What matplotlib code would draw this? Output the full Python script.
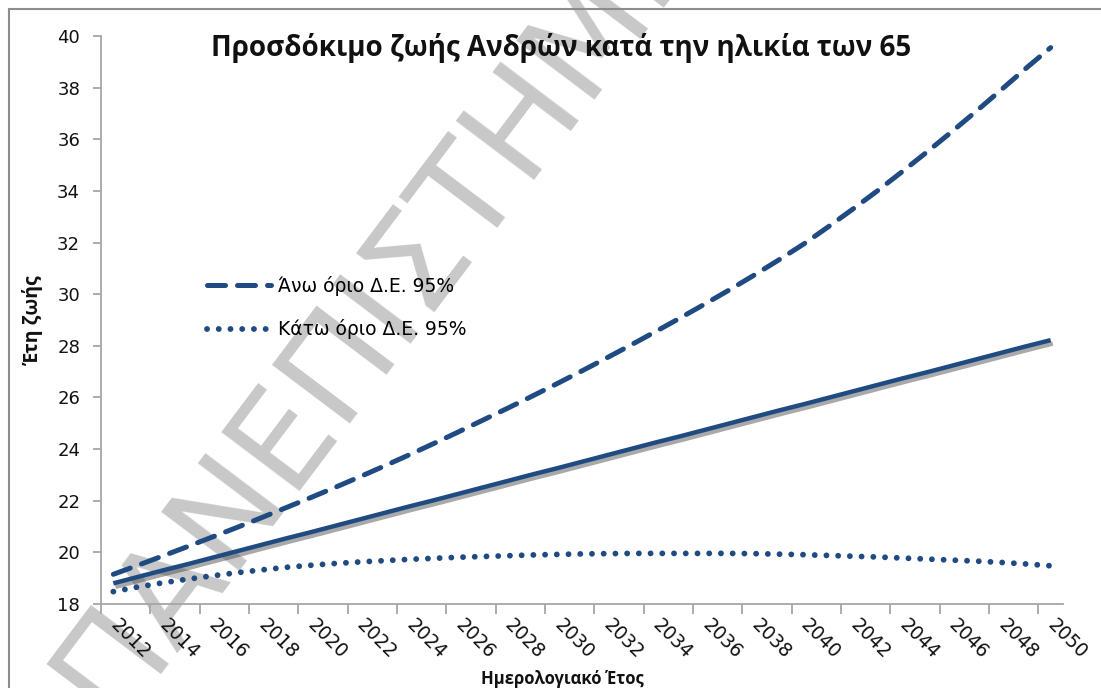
import matplotlib.pyplot as plt
import matplotlib.patheffects as pe
from matplotlib.lines import Line2D

# Data (life expectancy of men at age 65)
years = list(range(2012, 2051))
central = [18.80, 19.05, 19.30, 19.54, 19.79, 20.04, 20.29, 20.54, 20.78, 21.03,
           21.28, 21.53, 21.78, 22.02, 22.27, 22.52, 22.77, 23.02, 23.26, 23.51,
           23.76, 24.01, 24.26, 24.50, 24.75, 25.00, 25.25, 25.50, 25.74, 25.99,
           26.24, 26.49, 26.74, 26.98, 27.23, 27.48, 27.73, 27.98, 28.22]
upper = [19.15, 19.50, 19.86, 20.22, 20.59, 20.96, 21.34, 21.73, 22.12, 22.52,
         22.93, 23.35, 23.78, 24.22, 24.67, 25.13, 25.59, 26.06, 26.54, 27.03,
         27.53, 28.04, 28.56, 29.09, 29.63, 30.18, 30.75, 31.34, 31.95, 32.62,
         33.31, 34.02, 34.76, 35.52, 36.30, 37.10, 37.92, 38.75, 39.55]
lower = [18.48, 18.66, 18.82, 18.96, 19.09, 19.21, 19.32, 19.42, 19.50, 19.57,
         19.63, 19.68, 19.73, 19.77, 19.81, 19.84, 19.87, 19.90, 19.92, 19.94,
         19.95, 19.96, 19.96, 19.96, 19.96, 19.96, 19.95, 19.93, 19.91, 19.88,
         19.85, 19.82, 19.78, 19.74, 19.70, 19.66, 19.61, 19.55, 19.48]
year_labels = [str(y) for y in range(2012, 2051, 2)]

title = 'Προσδόκιμο ζωής Ανδρών κατά την ηλικία των 65'
xlabel = 'Ημερολογιακό Έτος'
ylabel = 'Έτη ζωής'
legend_labels = ['Άνω όριο Δ.Ε. 95%', 'Κάτω όριο Δ.Ε. 95%']

plt.rcParams['font.family'] = ['DejaVu Sans']

navy = '#1f4a82'
axis_gray = '#a6a6a6'
bold_font = ['Open Sans', 'DejaVu Sans']

W, H = 1101, 688
fig = plt.figure(figsize=(W / 100, H / 100), dpi=100)

# chart area (pixel positions of the reference converted to figure fractions)
ax = fig.add_axes([101 / W, 1 - 604 / H, (1063 - 101) / W, (604 - 36) / H])
ax.patch.set_facecolor('none')

# watermark behind everything
fig.text(0.102, -0.05, 'ΠΑΝΕΠΙΣΤΗΜΙΟ', rotation=53, rotation_mode='anchor',
         ha='left', va='baseline', fontsize=96, color='#c8c8c8',
         family='DejaVu Sans', zorder=-1)

# outer chart border (cropped at right and bottom in the reference)
fig.add_artist(Line2D([9 / W, 1.0], [1 - 9 / H, 1 - 9 / H], color='#8c8c8c', lw=1.5))
fig.add_artist(Line2D([9 / W, 9 / W], [0.0, 1 - 9 / H], color='#8c8c8c', lw=1.5))

ax.plot(years, central, color=navy, lw=3.2, solid_capstyle='butt', zorder=3,
        path_effects=[pe.SimpleLineShadow(offset=(1.5, -2.5), shadow_color='#404040', alpha=0.45),
                      pe.Normal()])
up_line, = ax.plot(years, upper, color=navy, lw=3.6, dashes=(3.6, 2.4),
                   dash_capstyle='round', zorder=3)
lo_line, = ax.plot(years, lower, color=navy, lw=4.2, dashes=(0.01, 2.0),
                   dash_capstyle='round', zorder=3)

ax.set_xlim(2011.5, 2050.5)
ax.set_ylim(18, 40)
ax.set_yticks(range(18, 41, 2))
ax.set_xticks(range(2012, 2051, 2))
ax.set_xticklabels(year_labels)
ax.set_xticks([2011.5 + 2 * k for k in range(20)], minor=True)

for side in ['top', 'right']:
    ax.spines[side].set_visible(False)
for side in ['left', 'bottom']:
    ax.spines[side].set_color(axis_gray)
    ax.spines[side].set_linewidth(1.3)

ax.tick_params(axis='y', direction='out', length=6, width=1.3, color=axis_gray,
               labelsize=13, pad=9, labelcolor='#111111')
ax.tick_params(axis='x', which='major', length=0, labelsize=13.5, pad=13, labelcolor='#111111')
ax.tick_params(axis='x', which='minor', direction='out', length=7, width=1.3, color=axis_gray)
plt.setp(ax.get_xticklabels(), rotation=-45, ha='left', va='center', rotation_mode='anchor')

ax.legend([up_line, lo_line], legend_labels, loc='upper left',
          bbox_to_anchor=(207 / W, 1 - 276 / H), bbox_transform=fig.transFigure,
          frameon=False, fontsize=13.5, borderpad=0, borderaxespad=0,
          handlelength=3.4, handletextpad=0.4, labelspacing=1.25)

fig.text(561 / W, 1 - 48 / H, title, ha='center', va='center',
         fontsize=20, weight='bold', color='#111111', family=bold_font)
fig.text(562 / W, 1 - 679 / H, xlabel, ha='center', va='center',
         fontsize=12, weight='bold', color='#111111', family=bold_font)
fig.text(33 / W, 1 - 320 / H, ylabel, ha='center', va='center', rotation=90,
         fontsize=14, weight='bold', color='#111111', family=bold_font)

plt.savefig('out.png', dpi=100)
